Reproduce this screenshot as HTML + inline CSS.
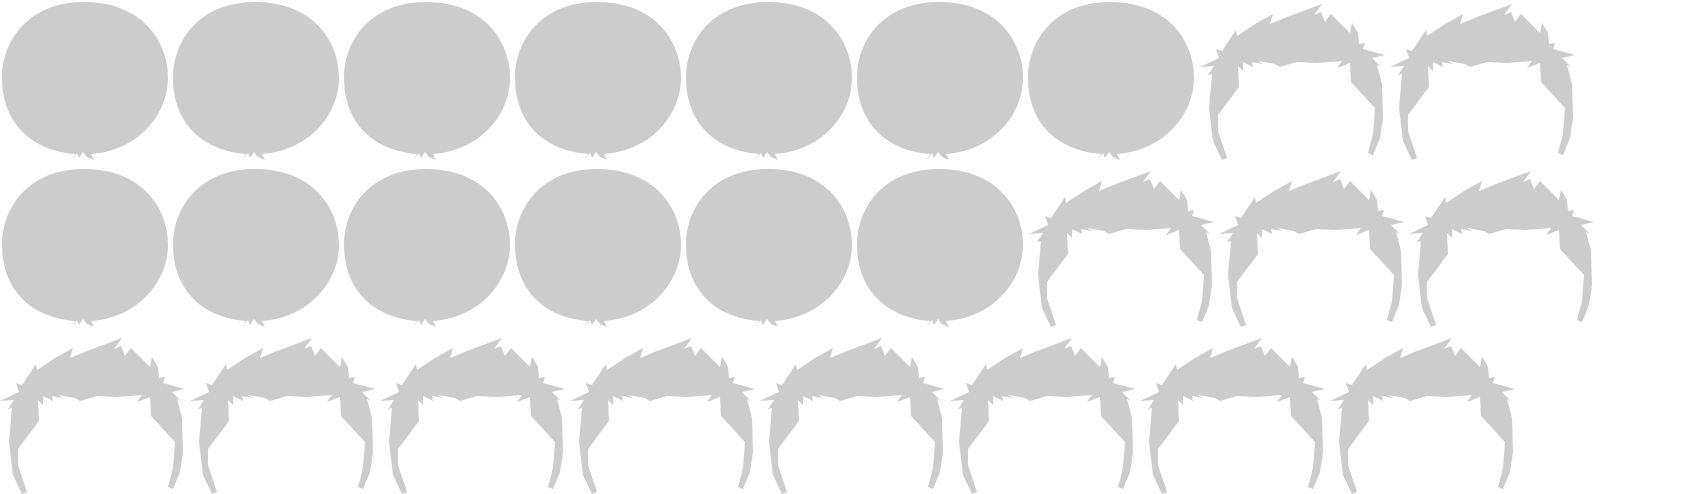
<!DOCTYPE html>
<html><head><meta charset="utf-8"><style>
html,body{margin:0;padding:0;background:#fff;width:1691px;height:494px;overflow:hidden}
svg{display:block}
</style></head><body>
<svg id="chart" width="1691" height="494" viewBox="0 0 1691 494" xmlns="http://www.w3.org/2000/svg">
<defs>
<g id="round-head">
<path d="M83,2 C140,2 167,40 167,78 C167,112 140,150 90,154 L93,160 L86,157 L82,152 L78,158 L76,153 L70,160 L74,154 C25,150 1,118 1,78 C1,40 28,2 83,2 Z" fill="#cccccc"/>
</g>
<g id="spiky-hair">
<path d="M0,66 L19,57 L16,48 L22,50 L36,29 L37,35 L55,23 L73,13 L70,23 L87,16 L122,3 L114,14 L121,11 L125,21 L131,13 L150,32 L152,22 L158,32 L159,43 L165,42 L163,48 L185,54 L172,57 L181,66 L177,64 L182,83 L183,117 L180,137 L173,154 L168,152 L173,133 L175,107 L151,81 L150,62 L137,67 L142,60 L117,62 L97,61 L80,66 L75,63 L58,60 L63,63 L52,61 L53,66 L43,61 L43,70 L38,65 L39,86 L18,114 L18,130 L27,157 L22,159 L13,140 L9,107 L12,73 L8,74 L14,65 Z" fill="#cccccc"/>
</g>
</defs>
<g id="marks"></g>
</svg>
<script>
const categories = ["row-1", "row-2", "row-3"];
const roundCounts = [7, 6, 0];
const spikyCounts = [2, 3, 8];

const ROW_H = 167, ROUND_W = 171, SPIKY_W = 190;
function rowY(i){ return i * ROW_H; }
function roundX(j){ return 1 + j * ROUND_W; }
function spikyX(start, j){ return start + j * SPIKY_W; }

const marks = document.getElementById('marks');
categories.forEach((cat, i) => {
  const g = document.createElementNS('http://www.w3.org/2000/svg', 'g');
  
  
  for (let j = 0; j < roundCounts[i]; j++) {
    const u = document.createElementNS('http://www.w3.org/2000/svg', 'use');
    u.setAttribute('href', '#round-head');
    u.setAttribute('x', roundX(j));
    u.setAttribute('y', rowY(i));
    
    
    g.appendChild(u);
  }
  const start = roundCounts[i] * ROUND_W + (roundCounts[i] ? 3 : 0);
  for (let j = 0; j < spikyCounts[i]; j++) {
    const u = document.createElementNS('http://www.w3.org/2000/svg', 'use');
    u.setAttribute('href', '#spiky-hair');
    u.setAttribute('x', spikyX(start, j));
    u.setAttribute('y', rowY(i) + 1);
    
    
    g.appendChild(u);
  }
  marks.appendChild(g);
});
</script>
</body></html>
